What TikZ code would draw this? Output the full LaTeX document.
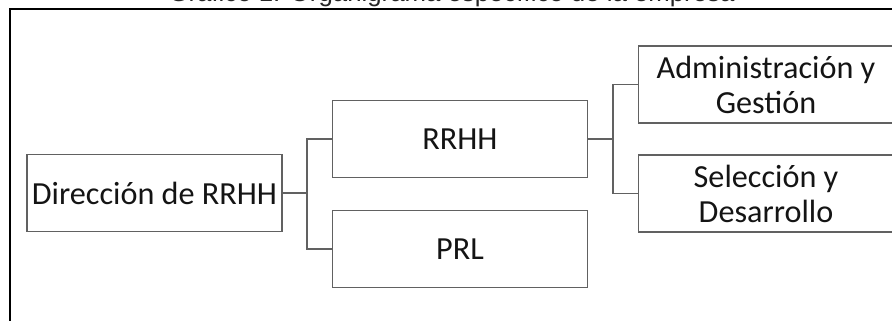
\documentclass[tikz,border=0pt]{standalone}
\usepackage{fontspec}
\setmainfont{Carlito}
\newfontfamily\captionfont{Liberation Sans}
\begin{document}
\begin{tikzpicture}[x=1pt,y=-1pt,
  unit/.style={draw=black!62,line width=1.4pt,fill=white,
    minimum width=255,minimum height=77,inner sep=0pt,align=center,
    font=\fontsize{32.2}{35}\selectfont,text=black!92},
  link/.style={draw=black!62,line width=1.4pt}]
  \useasboundingbox (0,0) rectangle (892,321);
  \begin{scope}
    \clip (0,0) rectangle (892,321);
    % caption line above the frame (only its lower part falls on the page)
    \node[anchor=base,inner sep=0pt,font=\captionfont\fontsize{25.8}{30}\selectfont,text=black!85]
      (caption) at (451.5,1.8) {Gráfico 1: Organigrama específico de la empresa};
    % outer frame
    \draw[line width=2.2pt] (10,340) -- (10,9.3) -- (910,9.3);
    % boxes
    \node[unit] (dir)  at (154.5,193) {Dirección de RRHH};
    \node[unit] (rrhh) at (460,139)   {RRHH};
    \node[unit] (prl)  at (460,249)   {PRL};
    \node[unit] (adm)  at (766,84.5)  {Administración y\\Gestión};
    \node[unit] (sel)  at (766,193.5) {Selección y\\Desarrollo};
    % elbow connectors
    \coordinate (j1) at (307,193);
    \coordinate (j2) at (613,139);
    \draw[link] (dir.east) -- (j1);
    \draw[link] (j1) |- (rrhh.west);
    \draw[link] (j1) |- (prl.west);
    \draw[link] (rrhh.east) -- (j2);
    \draw[link] (j2) |- (adm.west);
    \draw[link] (j2) |- (sel.west);
  \end{scope}
\end{tikzpicture}
\end{document}
